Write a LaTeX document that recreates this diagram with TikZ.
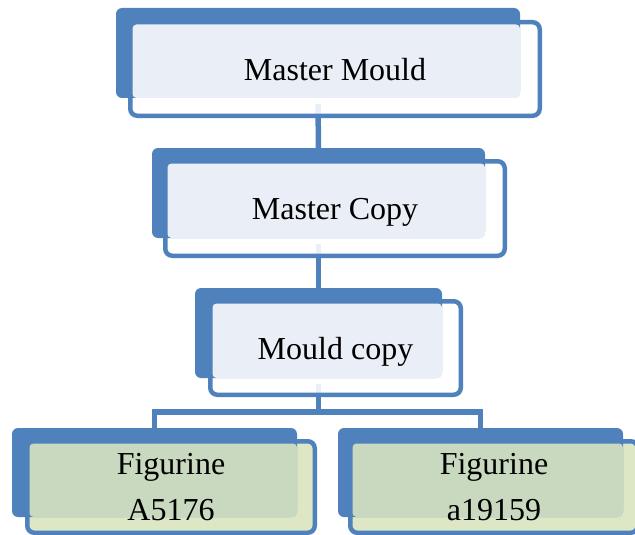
\documentclass[tikz,border=0pt]{standalone}
\usepackage{fontspec}
\setmainfont{Liberation Serif}
\usetikzlibrary{calc}
\definecolor{smblue}{HTML}{4F81BD}
\definecolor{palebl}{HTML}{EAEFF7}
\definecolor{palegr}{HTML}{DDE7C5}
\definecolor{midgr}{HTML}{C9D9BF}
\pgfdeclarelayer{bg}
\pgfsetlayers{bg,main}

\begin{document}
\begin{tikzpicture}[x=1pt,y=-1pt,
 outl/.style={draw=smblue,line width=4.5pt,rounded corners=7pt,fill=white,fill opacity=.88,outer sep=0pt,inner sep=0pt,minimum height=93.5pt},
 backbox/.style={fill=smblue,rounded corners=6pt,outer sep=0pt,inner sep=0pt,minimum height=90pt},
 conn/.style={draw=smblue,line width=5.5pt},
 txt/.style={font=\fontsize{32}{46}\selectfont,align=center,inner sep=0pt}]
 \path[use as bounding box,clip](0,0)rectangle(635,535);
 % top chain
 \node[outl,minimum width=409.5pt](mm)at(335,69){};
 \node[backbox,minimum width=404pt](mmb)at(318,53){};
 \fill[palebl,rounded corners=4pt]([shift={(2.25,2.25)}]mm.north west)rectangle(mmb.south east);
 \node[txt,text depth=0pt](mmt)at(mm){Master Mould};
 \node[outl,minimum width=339.5pt,minimum height=94.5pt](mc)at(335,208.5){};
 \node[backbox,minimum width=333pt](mcb)at(318.5,193){};
 \fill[palebl,rounded corners=4pt]([shift={(2.25,2.25)}]mc.north west)rectangle(mcb.south east);
 \node[txt,text depth=0pt](mct)at(mc){Master Copy};
 \node[outl,minimum width=250.5pt](mcp)at(335.5,348){};
 \node[backbox,minimum width=247pt](mcpb)at(318.5,333){};
 \fill[palebl,rounded corners=4pt]([shift={(2.25,2.25)}]mcp.north west)rectangle(mcpb.south east);
 \node[txt,text depth=0pt](mcpt)at(mcp){Mould copy};
 % figurines
 \node[outl,fill=palegr,fill opacity=1,minimum width=287.5pt,minimum height=91.5pt](figA)at(171,487){};
 \node[backbox,minimum width=285pt,minimum height=89pt](figAb)at(154.5,472.5){};
 \fill[midgr,rounded corners=4pt]([shift={(2.25,2.25)}]figA.north west)rectangle(figAb.south east);
 \node[txt](figAt)at(figA){Figurine\\A5176};
 \node[outl,fill=palegr,fill opacity=1,minimum width=287.5pt,minimum height=91.5pt](figB)at(494,487){};
 \node[backbox,minimum width=285pt,minimum height=89pt](figBb)at(480.5,472.5){};
 \fill[midgr,rounded corners=4pt]([shift={(2.25,2.25)}]figB.north west)rectangle(figBb.south east);
 \node[txt](figBt)at(figB){Figurine\\a19159};
 \coordinate(split)at(318.5,412);
 \begin{pgfonlayer}{bg}
  \draw[conn]([yshift=-6pt]mmb.south)--(mcb.north);
  \draw[conn]([yshift=-6pt]mcb.south)--(mcpb.north);
  \draw[conn]([yshift=-6pt]mcpb.south)--(split);
  \draw[conn](figAb.north)|-(split)-|(figBb.north);
 \end{pgfonlayer}
\end{tikzpicture}
\end{document}
